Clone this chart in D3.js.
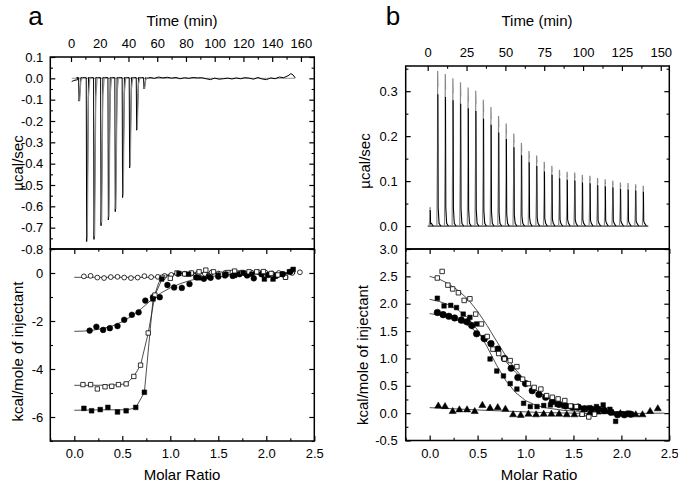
<!DOCTYPE html>
<html><head><meta charset="utf-8">
<script src="https://cdn.jsdelivr.net/npm/d3@7"></script>
<style>body{margin:0;background:#fff} svg text{font-family:"Liberation Sans",Arial,sans-serif;fill:#000}</style>
</head><body><script>
// ---------- DATA ----------
// Panel a, thermogram (negative injection peaks)
const peaksA_t = [5.6,10.9,16.0,20.9,26.0,30.8,35.9,40.8,45.7,50.8];
const peaksA_v = [-0.107,-0.765,-0.755,-0.691,-0.664,-0.625,-0.559,-0.42,-0.243,-0.049];
const preA = [[0.5,-0.015],[2,-0.01],[3.5,-0.008],[4.8,-0.006]];
const baselineA = [[52,-0.003],[55,0.004],[58,0.0],[61,0.006],[64,0.002],[67,0.005],[70,0.001],[73,0.004],[76,-0.002],[79,0.003],[82,0.0],[85,0.004],[88,0.002],[91,0.003],[94,-0.002],[97,-0.006],[100,0.001],[103,-0.004],[106,-0.002],[109,0.001],[112,-0.003],[115,0.002],[118,-0.002],[121,0.003],[124,0.001],[127,-0.004],[130,0.004],[133,-0.003],[136,-0.006],[139,0.002],[142,-0.002],[145,0.006],[148,0.003],[151,0.012],[153,0.022],[154.5,0.016],[156,0.002]];
const refLineA = [[0.5,0],[156,0]];

// Panel b, thermogram (positive injection peaks)
const peaksB_t = [1.5,6.4,11.3,16.2,21.1,26.0,30.9,35.8,40.7,45.6,50.5,55.4,60.3,65.2,70.1,75.0,79.9,84.8,89.7,94.6,99.5,104.4,109.3,114.2,119.1,124.0,128.9,133.8,138.7];
const peaksB_v = [0.042,0.345,0.338,0.329,0.320,0.308,0.301,0.281,0.265,0.245,0.228,0.206,0.185,0.167,0.157,0.143,0.134,0.125,0.121,0.119,0.114,0.112,0.107,0.104,0.101,0.097,0.0955,0.093,0.0895];
const baselineB = [[0,0],[142,0]];

// Panel a, integrated heats (kcal/mole of injectant)
const ocA_x = [0.10,0.17,0.24,0.31,0.38,0.45,0.52,0.59,0.66,0.73,0.80,0.87,0.94,1.01,1.08,1.15,1.22,1.29,1.36,1.43,1.50,1.57,1.64,1.71,1.78,1.85,1.92,1.99,2.06,2.13,2.20,2.27,2.35];
const ocA_y = [-0.14,-0.12,-0.19,-0.21,-0.17,-0.16,-0.19,-0.21,-0.19,-0.13,-0.17,-0.16,-0.12,-0.08,-0.05,-0.03,-0.02,0.0,-0.04,0.02,-0.02,0.0,0.02,0.0,-0.03,0.01,0.03,0.02,-0.02,0.0,-0.17,0.0,0.03];
const ocA_fit = [[0,-0.18],[0.5,-0.18],[0.8,-0.18],[0.9,-0.15],[1.0,-0.07],[1.1,-0.02],[1.3,0],[2.3,0.01]];

const fcA_x = [0.16,0.23,0.30,0.37,0.45,0.52,0.60,0.67,0.74,0.82,0.89,0.97,1.04,1.12,1.20,1.27,1.35,1.42,1.50,1.57,1.65,1.72,1.80,1.87,1.95,2.02,2.10,2.17,2.25];
const fcA_y = [-2.40,-2.24,-2.37,-2.30,-2.21,-1.95,-1.74,-1.64,-1.15,-1.01,-1.01,-0.50,-0.60,-0.62,-0.46,-0.18,-0.24,-0.20,-0.15,-0.10,-0.12,-0.05,-0.10,-0.22,-0.05,-0.08,-0.12,-0.05,0.05];
const fcA_fit = [[0,-2.43],[0.1,-2.42],[0.2,-2.38],[0.3,-2.31],[0.4,-2.2],[0.5,-2.03],[0.6,-1.79],[0.7,-1.48],[0.8,-1.13],[0.9,-0.84],[1.0,-0.62],[1.1,-0.45],[1.2,-0.32],[1.3,-0.22],[1.4,-0.15],[1.6,-0.08],[1.9,-0.04],[2.3,-0.01]];

const osA_x = [0.09,0.17,0.24,0.32,0.39,0.46,0.54,0.62,0.69,0.77,0.84,0.92,1.00,1.07,1.15,1.22,1.30,1.37,1.45,1.52,1.60,1.67,1.75,1.82,1.90,1.97,2.05,2.12,2.20];
const osA_y = [-4.65,-4.65,-4.83,-4.74,-4.72,-4.65,-4.62,-4.31,-3.84,-2.50,-0.92,-0.18,-0.22,0.0,-0.04,0.0,0.05,0.12,0.05,-0.05,0.02,0.08,0.02,0.05,0.05,0.06,-0.02,-0.08,-0.18];
const osA_fit = [[0,-4.68],[0.2,-4.68],[0.4,-4.67],[0.54,-4.62],[0.62,-4.31],[0.69,-3.84],[0.77,-2.5],[0.84,-0.92],[0.92,-0.2],[1.0,-0.06],[1.1,0],[2.3,0.0]];

const fsA_x = [0.10,0.18,0.27,0.35,0.45,0.54,0.64,0.73,0.82,0.91,1.09,1.19,1.30,1.40,1.50,1.58,1.67,1.76,1.85,1.98,2.07,2.17,2.24,2.28];
const fsA_y = [-5.64,-5.74,-5.69,-5.60,-5.79,-5.74,-5.60,-4.97,-1.08,-0.25,-0.02,-0.05,-0.2,-0.15,-0.1,-0.05,-0.1,0.0,-0.05,-0.25,-0.25,-0.05,0.05,0.15];
const fsA_fit = [[0,-5.72],[0.3,-5.7],[0.55,-5.7],[0.64,-5.62],[0.73,-4.97],[0.82,-1.1],[0.88,-0.4],[0.95,-0.1],[1.05,-0.02],[1.3,0],[2.3,0]];

// Panel b, integrated heats
const osB_x = [0.08,0.13,0.19,0.24,0.30,0.36,0.42,0.48,0.54,0.60,0.66,0.72,0.78,0.84,0.91,0.97,1.03,1.09,1.16,1.22,1.28,1.34,1.41,1.47,1.53,1.59,1.66,1.72];
const osB_y = [2.47,2.59,2.34,2.27,2.20,2.06,2.09,1.81,1.63,1.40,1.17,1.09,0.99,0.96,0.85,0.62,0.54,0.47,0.44,0.32,0.29,0.26,0.23,0.13,0.12,-0.02,-0.07,-0.02];
const osB_fit = [[0,2.5],[0.1,2.45],[0.2,2.36],[0.3,2.24],[0.4,2.08],[0.5,1.86],[0.6,1.6],[0.7,1.31],[0.8,1.03],[0.9,0.79],[1.0,0.59],[1.1,0.43],[1.2,0.31],[1.3,0.22],[1.4,0.16],[1.5,0.11],[1.7,0.06],[1.9,0.03],[2.1,0.02]];

const fsB_x = [0.08,0.15,0.22,0.28,0.35,0.42,0.49,0.56,0.63,0.70,0.77,0.84,0.91,0.98,1.05,1.12,1.19,1.26,1.33,1.40,1.47,1.53,1.60,1.67,1.74,1.81,1.88,1.94,2.00,2.07];
const fsB_y = [2.10,1.96,1.97,1.93,1.81,1.75,1.63,1.38,0.99,0.77,0.68,0.54,0.44,0.18,0.12,0.12,0.14,0.15,0.16,0.13,0.12,0.10,0.09,0.10,0.12,0.15,0.07,-0.15,-0.01,0.0];
const fsB_fit = [[0,2.08],[0.1,2.04],[0.2,1.98],[0.3,1.88],[0.4,1.74],[0.5,1.52],[0.6,1.21],[0.7,0.87],[0.8,0.58],[0.9,0.37],[1.0,0.23],[1.1,0.15],[1.2,0.1],[1.4,0.05],[1.7,0.02],[2.1,0.0]];

const fcB_x = [0.08,0.14,0.20,0.26,0.33,0.39,0.44,0.49,0.57,0.64,0.71,0.78,0.85,0.92,1.00,1.07,1.14,1.21,1.28,1.35,1.42,1.49,1.55,1.62,1.69,1.76,1.82,1.89,1.96,2.03,2.10];
const fcB_y = [1.84,1.80,1.77,1.74,1.70,1.67,1.60,1.45,1.36,1.27,1.17,1.00,0.82,0.65,0.54,0.41,0.34,0.29,0.21,0.16,0.13,0.11,0.11,0.08,0.07,0.07,0.05,0.02,-0.03,-0.03,-0.02];
const fcB_fit = [[0,1.82],[0.1,1.79],[0.2,1.75],[0.3,1.69],[0.4,1.6],[0.5,1.47],[0.6,1.3],[0.7,1.12],[0.8,0.93],[0.9,0.74],[1.0,0.57],[1.1,0.43],[1.2,0.32],[1.3,0.23],[1.4,0.17],[1.5,0.12],[1.7,0.07],[1.9,0.03],[2.1,0.0]];

const trB_x = [0.09,0.16,0.24,0.31,0.39,0.47,0.55,0.63,0.71,0.79,0.87,0.95,1.03,1.11,1.19,1.27,1.35,1.43,1.51,1.59,1.67,1.75,1.83,1.91,1.99,2.07,2.15,2.22,2.30,2.38];
const trB_y = [0.13,0.12,0.03,0.06,0.06,0.03,0.14,0.09,0.10,0.07,-0.03,-0.04,-0.02,-0.03,-0.02,-0.02,-0.02,-0.03,-0.03,-0.02,0.0,0.02,0.03,0.0,-0.01,-0.03,-0.03,-0.03,0.03,0.08];
const trB_fit = [[0,0.1],[0.6,0.05],[1.2,0.01],[1.8,-0.01],[2.45,0.0]];

// Tick values
const timeTicksA = [0,20,40,60,80,100,120,140,160];
const timeMinorA = [10,30,50,70,90,110,130,150];
const heatTicksA = [0.1,0.0,-0.1,-0.2,-0.3,-0.4,-0.5,-0.6,-0.7,-0.8];
const heatMinorA = [0.05,-0.05,-0.15,-0.25,-0.35,-0.45,-0.55,-0.65,-0.75];
const kcalTicksA = [0,-2,-4,-6];
const kcalMinorA = [1,-1,-3,-5,-7];
const ratioTicks = [0,0.5,1.0,1.5,2.0,2.5];
const ratioMinor = [-0.25,0.25,0.75,1.25,1.75,2.25];
const timeTicksB = [0,25,50,75,100,125,150];
const timeMinorB = [12.5,37.5,62.5,87.5,112.5,137.5];
const heatTicksB = [0.0,0.1,0.2,0.3];
const heatMinorB = [0.05,0.15,0.25,0.35];
const kcalTicksB = [-0.5,0.0,0.5,1.0,1.5,2.0,2.5,3.0];
const kcalMinorB = [-0.25,0.25,0.75,1.25,1.75,2.25,2.75];

// ---------- DRAWING ----------
const svg = d3.select("body").append("svg").attr("width",678).attr("height",482);

function panel(x0,x1,y0,y1,xd,yd){
  return {x0,x1,y0,y1,
    x:d3.scaleLinear().domain(xd).range([x0,x1]),
    y:d3.scaleLinear().domain(yd).range([y1,y0])};
}
const aTop = panel(50.3,314.3,57,249,[-14.4,169.3],[-0.8,0.1]);
const aBot = panel(50.3,314.3,249,441,[-0.25,2.5],[-7,1]);
const bTop = panel(405.7,669.3,66,249,[-14.16,155.5],[-0.051,0.356]);
const bBot = panel(405.7,669.3,249,440.5,[-0.25,2.5],[-0.5,3.0]);

const f1 = d => d.toFixed(1);
const f0 = d => String(d);

function addAxis(orient, scale, tx, ty, major, minor, fmt, pad){
  const mk = {top:d3.axisTop,bottom:d3.axisBottom,left:d3.axisLeft,right:d3.axisRight}[orient];
  const g = svg.append("g").attr("transform",`translate(${tx},${ty})`);
  g.call(mk(scale).tickValues(major).tickSizeInner(-5).tickSizeOuter(0).tickPadding(pad||3).tickFormat(fmt||(()=>"")));
  g.select(".domain").remove();
  g.selectAll("line").attr("stroke","#000").attr("stroke-width",1.2);
  g.selectAll("text").attr("font-size",13).attr("font-family",null).attr("fill","#000");
  g.attr("font-family",null).attr("font-size",null);
  if(minor){
    const g2 = svg.append("g").attr("transform",`translate(${tx},${ty})`);
    g2.call(mk(scale).tickValues(minor).tickSizeInner(-2.7).tickSizeOuter(0).tickFormat(()=>""));
    g2.select(".domain").remove();
    g2.selectAll("line").attr("stroke","#000").attr("stroke-width",1.1);
  }
}

function line(p){ return d3.line().x(d=>p.x(d[0])).y(d=>p.y(d[1])); }

// ---- panel a, top: thermogram
svg.append("path").attr("d",line(aTop)(refLineA)).attr("fill","none").attr("stroke","#aaa").attr("stroke-width",1.2);
{
  let pts = preA.slice();
  peaksA_t.forEach((t,i)=>{
    const v = peaksA_v[i];
    pts.push([t-1.6,0.004],[t-0.3,0.003],[t,v],[t+0.25,v*0.9],[t+1.3,0.004]);
  });
  pts = pts.concat(baselineA);
  svg.append("path").attr("d",line(aTop)(pts)).attr("fill","none").attr("stroke","#000").attr("stroke-width",1);
  peaksA_t.forEach((t,i)=>{
    const v = peaksA_v[i];
    const g = [[t+0.45,v*0.98],[t+1.2,v*0.12],[t+2.2,0.002],[t+3.0,0.001]];
    svg.append("path").attr("d",line(aTop)(g)).attr("fill","none").attr("stroke","#8a8a8a").attr("stroke-width",1.2);
  });
}

// ---- panel b, top: thermogram
svg.append("path").attr("d",line(bTop)(baselineB)).attr("fill","none").attr("stroke","#000").attr("stroke-width",1);
peaksB_t.forEach((t,i)=>{
  const v = peaksB_v[i];
  const up = [[t-0.5,0],[t-0.1,v*0.5],[t,v],[t+0.2,v*0.9]];
  svg.append("path").attr("d",line(bTop)(up)).attr("fill","none").attr("stroke","#888").attr("stroke-width",1.2);
  const dn = [[t+0.15,v*0.85],[t+0.35,v*0.12],[t+0.9,0.006],[t+2.0,0]];
  svg.append("path").attr("d",line(bTop)(dn)).attr("fill","none").attr("stroke","#000").attr("stroke-width",1.1);
});

// ---- fit lines
function fit(p,data){
  svg.append("path").attr("d",line(p)(data)).attr("fill","none").attr("stroke","#222").attr("stroke-width",0.8);
}
[ocA_fit,fcA_fit,osA_fit,fsA_fit].forEach(d=>fit(aBot,d));
[osB_fit,fsB_fit,fcB_fit,trB_fit].forEach(d=>fit(bBot,d));

// ---- markers
function markers(p, xs, ys, type, filled, size){
  const sym = d3.symbol().type(type).size(size);
  svg.append("g").selectAll("path").data(xs.map((x,i)=>[x,ys[i]])).join("path")
    .attr("transform",d=>`translate(${p.x(d[0])},${p.y(d[1])})`)
    .attr("d",sym())
    .attr("fill",filled?"#000":"#fff")
    .attr("stroke","#000").attr("stroke-width",filled?0.5:0.8);
}
markers(aBot, ocA_x, ocA_y, d3.symbolCircle, false, 18);
markers(aBot, fcA_x, fcA_y, d3.symbolCircle, true, 26);
markers(aBot, osA_x, osA_y, d3.symbolSquare, false, 19);
markers(aBot, fsA_x, fsA_y, d3.symbolSquare, true, 22);

markers(bBot, trB_x, trB_y, d3.symbolTriangle, true, 22);
markers(bBot, fsB_x, fsB_y, d3.symbolSquare, true, 21);
markers(bBot, fcB_x, fcB_y, d3.symbolCircle, true, 34);
markers(bBot, osB_x, osB_y, d3.symbolSquare, false, 20);

// ---- axes
addAxis("top", aTop.x, 0, aTop.y0, timeTicksA, timeMinorA, f0, 9);
addAxis("left", aTop.y, aTop.x0, 0, heatTicksA, heatMinorA, f1, 7);
addAxis("right", aTop.y, aTop.x1, 0, heatTicksA, heatMinorA, null);
addAxis("top", aBot.x, 0, aBot.y0, ratioTicks, ratioMinor, null);
addAxis("bottom", aBot.x, 0, aBot.y1, ratioTicks, ratioMinor, f1, 8);
addAxis("left", aBot.y, aBot.x0, 0, kcalTicksA, kcalMinorA, f0, 7);
addAxis("right", aBot.y, aBot.x1, 0, kcalTicksA, kcalMinorA, null);
addAxis("top", bTop.x, 0, bTop.y0, timeTicksB, timeMinorB, f0, 9);
addAxis("left", bTop.y, bTop.x0, 0, heatTicksB, heatMinorB, f1, 8);
addAxis("right", bTop.y, bTop.x1, 0, heatTicksB, heatMinorB, null);
addAxis("top", bBot.x, 0, bBot.y0, ratioTicks, ratioMinor, null);
addAxis("bottom", bBot.x, 0, bBot.y1, ratioTicks, ratioMinor, f1, 8);
addAxis("left", bBot.y, bBot.x0, 0, kcalTicksB, kcalMinorB, f1, 8);
addAxis("right", bBot.y, bBot.x1, 0, kcalTicksB, kcalMinorB, null);

// frames
[aTop,aBot,bTop,bBot].forEach(p=>{
  svg.append("rect").attr("x",p.x0).attr("y",p.y0).attr("width",p.x1-p.x0).attr("height",p.y1-p.y0)
    .attr("fill","none").attr("stroke","#000").attr("stroke-width",1.5);
});

// ---- titles
function txt(x,y,s,size,rot){
  const t = svg.append("text").attr("text-anchor","middle").attr("font-size",size).text(s);
  if(rot) t.attr("transform",`translate(${x},${y}) rotate(-90)`);
  else t.attr("x",x).attr("y",y);
  return t;
}
txt(35.5,24.5,"a",26);
txt(393,24.5,"b",26);
txt(182,26,"Time (min)",15);
txt(537,26,"Time (min)",15);
txt(182,480,"Molar Ratio",15);
txt(539,480,"Molar Ratio",15);
txt(23,163,"µcal/sec",15,true);
txt(23,351.5,"kcal/mole of injectant",15,true);
txt(370,161,"µcal/sec",15,true);
txt(368,355,"kcal/mole of injectant",15,true);
</script></body></html>
